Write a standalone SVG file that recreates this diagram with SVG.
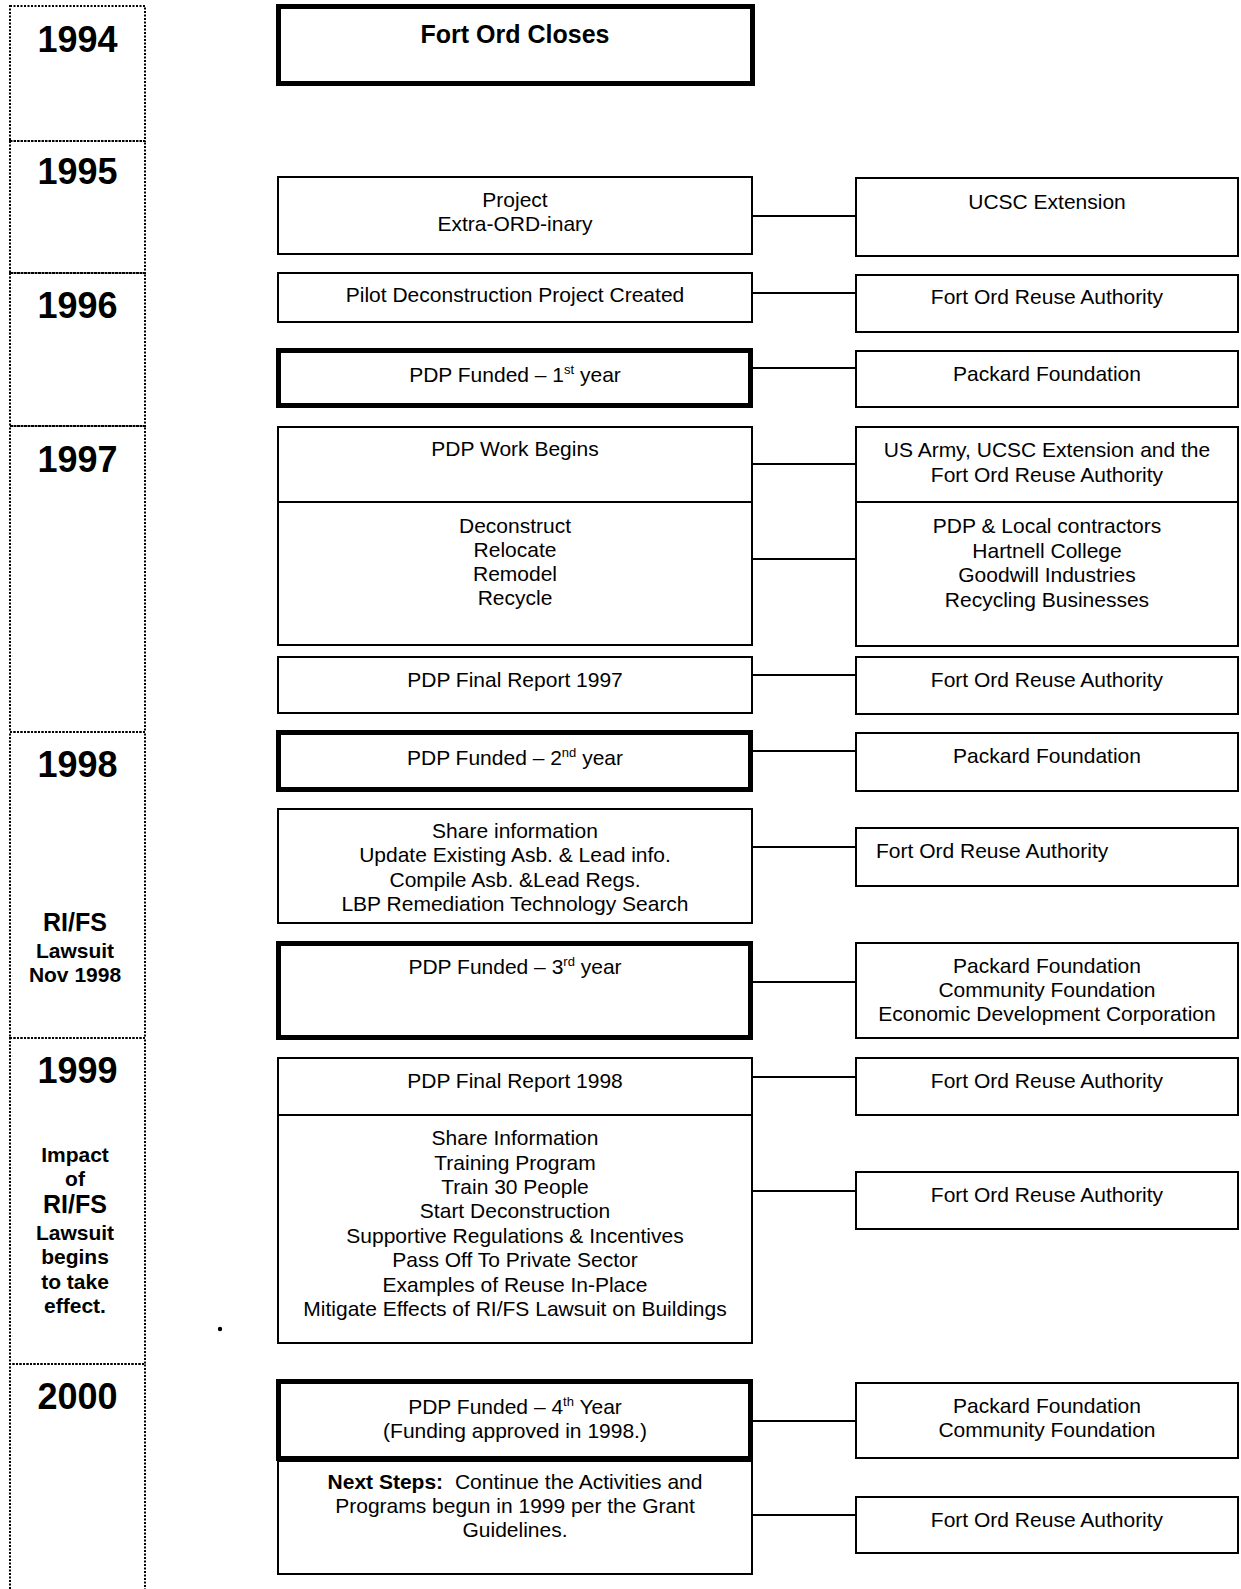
<svg xmlns="http://www.w3.org/2000/svg" width="1241" height="1589" viewBox="0 0 1241 1589">
<style>
  .yr { fill: none; stroke: #000; stroke-width: 2; stroke-dasharray: 2 1.5; }
  .box { fill: #fff; stroke: #000; stroke-width: 2; }
  .thick { fill: #fff; stroke: #000; stroke-width: 5; }
  .con { stroke: #000; stroke-width: 2; fill: none; }
  text { font-family: "Liberation Sans", Arial, sans-serif; fill: #000; }
  .t { font-size: 21px; text-anchor: middle; }
  .tl { font-size: 21px; text-anchor: start; }
  .year { font-size: 36px; font-weight: bold; text-anchor: middle; }
  .side { font-size: 21px; font-weight: bold; text-anchor: middle; }
  .side2 { font-size: 25px; font-weight: bold; text-anchor: middle; }
  .title { font-size: 25px; font-weight: bold; text-anchor: middle; }
  .sup { font-size: 13px; }
</style>

<g id="years">
  <g id="y1994"><path class="yr" d="M10 6 H145 V141 H10 Z"/><text class="year" x="77.5" y="52">1994</text></g>
  <g id="y1995"><path class="yr" d="M10 141 H145 V273 H10 Z"/><text class="year" x="77.5" y="184">1995</text></g>
  <g id="y1996"><path class="yr" d="M10 273 H145 V426 H10 Z"/><text class="year" x="77.5" y="318">1996</text></g>
  <g id="y1997"><path class="yr" d="M10 426 H145 V732 H10 Z"/><text class="year" x="77.5" y="472">1997</text></g>
  <g id="y1998"><path class="yr" d="M10 732 H145 V1038 H10 Z"/><text class="year" x="77.5" y="777">1998</text>
    <text class="side2" x="75" y="931">RI/FS</text>
    <text class="side" x="75" y="958">Lawsuit</text>
    <text class="side" x="75" y="982">Nov 1998</text>
  </g>
  <g id="y1999"><path class="yr" d="M10 1038 H145 V1364 H10 Z"/><text class="year" x="77.5" y="1083">1999</text>
    <text class="side" x="75" y="1162">Impact</text>
    <text class="side" x="75" y="1186">of</text>
    <text class="side2" x="75" y="1213">RI/FS</text>
    <text class="side" x="75" y="1240">Lawsuit</text>
    <text class="side" x="75" y="1264">begins</text>
    <text class="side" x="75" y="1289">to take</text>
    <text class="side" x="75" y="1313">effect.</text>
  </g>
  <g id="y2000"><path class="yr" d="M10 1589 V1364 H145 V1589"/><text class="year" x="77.5" y="1409">2000</text></g>
</g>

<g id="connectors">
  <line class="con" x1="752" y1="216" x2="856" y2="216"/>
  <line class="con" x1="752" y1="293" x2="856" y2="293"/>
  <line class="con" x1="753" y1="368" x2="856" y2="368"/>
  <line class="con" x1="752" y1="464" x2="856" y2="464"/>
  <line class="con" x1="752" y1="559" x2="856" y2="559"/>
  <line class="con" x1="752" y1="675" x2="856" y2="675"/>
  <line class="con" x1="753" y1="751" x2="856" y2="751"/>
  <line class="con" x1="752" y1="847" x2="856" y2="847"/>
  <line class="con" x1="753" y1="982" x2="856" y2="982"/>
  <line class="con" x1="752" y1="1077" x2="856" y2="1077"/>
  <line class="con" x1="752" y1="1191" x2="856" y2="1191"/>
  <line class="con" x1="753" y1="1421" x2="856" y2="1421"/>
  <line class="con" x1="752" y1="1515" x2="856" y2="1515"/>
</g>

<g id="fort-ord-closes"><rect class="thick" x="278.5" y="6.5" width="474" height="77"/><text class="title" x="515" y="43">Fort Ord Closes</text></g>

<g id="project-extraordinary"><rect class="box" x="278" y="177" width="474" height="77"/>
  <text class="t" x="515" y="207">Project</text><text class="t" x="515" y="231">Extra-ORD-inary</text></g>
<g id="ucsc-extension"><rect class="box" x="856" y="178" width="382" height="78"/><text class="t" x="1047" y="209">UCSC Extension</text></g>

<g id="pilot"><rect class="box" x="278" y="273" width="474" height="49"/><text class="t" x="515" y="302">Pilot Deconstruction Project Created</text></g>
<g id="fora-1996"><rect class="box" x="856" y="275" width="382" height="57"/><text class="t" x="1047" y="304">Fort Ord Reuse Authority</text></g>

<g id="pdp-funded-1"><rect class="thick" x="278.5" y="350.5" width="472" height="55"/><text class="t" x="515" y="382">PDP Funded – 1<tspan class="sup" dy="-8">st</tspan><tspan dy="8"> year</tspan></text></g>
<g id="packard-1996"><rect class="box" x="856" y="351" width="382" height="56"/><text class="t" x="1047" y="381">Packard Foundation</text></g>

<g id="pdp-work-begins"><rect class="box" x="278" y="427" width="474" height="75"/><text class="t" x="515" y="456">PDP Work Begins</text></g>
<g id="pdp-activities"><rect class="box" x="278" y="502" width="474" height="143"/>
  <text class="t" x="515" y="533">Deconstruct</text><text class="t" x="515" y="557">Relocate</text>
  <text class="t" x="515" y="581">Remodel</text><text class="t" x="515" y="605">Recycle</text></g>
<g id="us-army"><rect class="box" x="856" y="427" width="382" height="75"/>
  <text class="t" x="1047" y="457">US Army, UCSC Extension and the</text><text class="t" x="1047" y="482">Fort Ord Reuse Authority</text></g>
<g id="contractors"><rect class="box" x="856" y="502" width="382" height="144"/>
  <text class="t" x="1047" y="533">PDP &amp; Local contractors</text><text class="t" x="1047" y="558">Hartnell College</text>
  <text class="t" x="1047" y="582">Goodwill Industries</text><text class="t" x="1047" y="607">Recycling Businesses</text></g>

<g id="final-report-1997"><rect class="box" x="278" y="657" width="474" height="56"/><text class="t" x="515" y="687">PDP Final Report 1997</text></g>
<g id="fora-1997"><rect class="box" x="856" y="657" width="382" height="57"/><text class="t" x="1047" y="687">Fort Ord Reuse Authority</text></g>

<g id="pdp-funded-2"><rect class="thick" x="278.5" y="732.5" width="472" height="57"/><text class="t" x="515" y="765">PDP Funded – 2<tspan class="sup" dy="-8">nd</tspan><tspan dy="8"> year</tspan></text></g>
<g id="packard-1998"><rect class="box" x="856" y="733" width="382" height="58"/><text class="t" x="1047" y="763">Packard Foundation</text></g>

<g id="share-info-1998"><rect class="box" x="278" y="809" width="474" height="114"/>
  <text class="t" x="515" y="838">Share information</text><text class="t" x="515" y="862">Update Existing Asb. &amp; Lead info.</text>
  <text class="t" x="515" y="887">Compile Asb. &amp;Lead Regs.</text><text class="t" x="515" y="911">LBP Remediation Technology Search</text></g>
<g id="fora-1998"><rect class="box" x="856" y="828" width="382" height="58"/><text class="tl" x="876" y="858">Fort Ord Reuse Authority</text></g>

<g id="pdp-funded-3"><rect class="thick" x="278.5" y="943.5" width="472" height="94"/><text class="t" x="515" y="974">PDP Funded – 3<tspan class="sup" dy="-8">rd</tspan><tspan dy="8"> year</tspan></text></g>
<g id="foundations-1998"><rect class="box" x="856" y="943" width="382" height="95"/>
  <text class="t" x="1047" y="973">Packard Foundation</text><text class="t" x="1047" y="997">Community Foundation</text>
  <text class="t" x="1047" y="1021">Economic Development Corporation</text></g>

<g id="final-report-1998"><rect class="box" x="278" y="1058" width="474" height="57"/><text class="t" x="515" y="1088">PDP Final Report 1998</text></g>
<g id="activities-1999"><rect class="box" x="278" y="1115" width="474" height="228"/>
  <text class="t" x="515" y="1145">Share Information</text><text class="t" x="515" y="1170">Training Program</text>
  <text class="t" x="515" y="1194">Train 30 People</text><text class="t" x="515" y="1218">Start Deconstruction</text>
  <text class="t" x="515" y="1243">Supportive Regulations &amp; Incentives</text><text class="t" x="515" y="1267">Pass Off To Private Sector</text>
  <text class="t" x="515" y="1292">Examples of Reuse In-Place</text><text class="t" x="515" y="1316">Mitigate Effects of RI/FS Lawsuit on Buildings</text></g>
<g id="fora-1999a"><rect class="box" x="856" y="1058" width="382" height="57"/><text class="t" x="1047" y="1088">Fort Ord Reuse Authority</text></g>
<g id="fora-1999b"><rect class="box" x="856" y="1172" width="382" height="57"/><text class="t" x="1047" y="1202">Fort Ord Reuse Authority</text></g>

<circle cx="220" cy="1329" r="2.2" fill="#000"/>

<g id="pdp-funded-4"><rect class="thick" x="278.5" y="1381.5" width="472" height="77"/>
  <text class="t" x="515" y="1414">PDP Funded – 4<tspan class="sup" dy="-8">th</tspan><tspan dy="8"> Year</tspan></text>
  <text class="t" x="515" y="1438">(Funding approved in 1998.)</text></g>
<g id="next-steps"><rect class="box" x="278" y="1461" width="474" height="113"/>
  <text class="t" x="515" y="1489"><tspan font-weight="bold">Next Steps:</tspan><tspan dx="6"> Continue the Activities and</tspan></text>
  <text class="t" x="515" y="1513">Programs begun in 1999 per the Grant</text>
  <text class="t" x="515" y="1537">Guidelines.</text></g>
<g id="foundations-2000"><rect class="box" x="856" y="1383" width="382" height="75"/>
  <text class="t" x="1047" y="1413">Packard Foundation</text><text class="t" x="1047" y="1437">Community Foundation</text></g>
<g id="fora-2000"><rect class="box" x="856" y="1497" width="382" height="56"/><text class="t" x="1047" y="1527">Fort Ord Reuse Authority</text></g>
</svg>
